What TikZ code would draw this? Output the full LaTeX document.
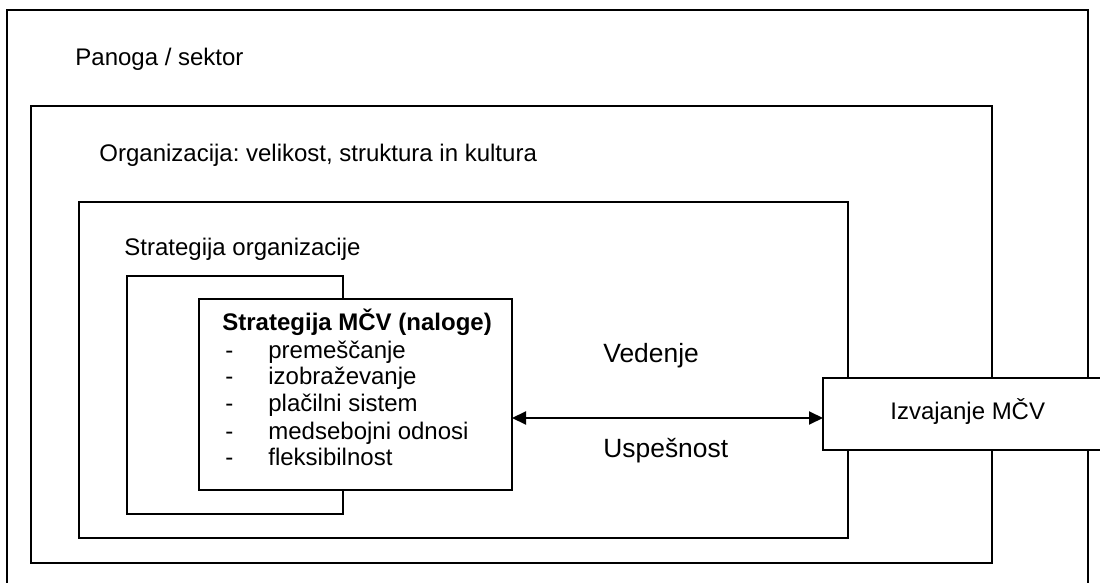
\documentclass[tikz,border=0pt]{standalone}
\usepackage{fontspec}
\setmainfont{Liberation Sans}
\usetikzlibrary{arrows.meta}
\frenchspacing
\begin{document}
\begin{tikzpicture}[x=0.5pt,y=-0.5pt,
  frame/.style={draw=black, fill=white, line width=1pt, rectangle, inner sep=0pt, outer sep=0pt},
  lbl/.style={anchor=base west, inner sep=0pt, font=\fontsize{12}{13.5}\selectfont},
  biglbl/.style={lbl, font=\fontsize{13.2}{15}\selectfont},
  boldlbl/.style={lbl, font=\fontsize{12}{13.5}\selectfont\bfseries},
  link/.style={line width=1pt, {Triangle[length=7pt,width=6.5pt]}-{Triangle[length=7pt,width=6.5pt]}}]
\clip (0,0) rectangle (1100,583);
\fill[white] (0,0) rectangle (1100,583);

% nested context frames
\node[frame, minimum width=540.5pt, minimum height=315pt] (sector) at (547.5,325) {};
\node[frame, minimum width=480.5pt, minimum height=228.5pt] (org) at (511.5,334.5) {};
\node[frame, minimum width=384.5pt, minimum height=168pt] (orgstrat) at (463.5,370) {};
\node[frame, minimum width=108pt, minimum height=119pt] (stratback) at (235,395) {};
\node[frame, minimum width=156.5pt, minimum height=95.5pt] (hrm) at (355.5,394.5) {};
\node[frame, minimum width=153.5pt, minimum height=36pt] (impl) at (976.5,414) {};

% frame titles
\node[lbl] (tsector) at (75,66) {Panoga / sektor};
\node[lbl] (torg) at (99,162) {Organizacija: velikost, struktura in kultura};
\node[lbl] (tstrat) at (124,256) {Strategija organizacije};

% HRM strategy contents
\node[boldlbl] (thrm) at (222,331) {Strategija MČV (naloge)};
\foreach \y/\t [count=\i] in {358/premeščanje, 385/izobraževanje, 412/plačilni sistem, 439/medsebojni odnosi, 466/fleksibilnost} {
  \node[lbl] (d\i) at (225,\y) {-};
  \node[lbl] (item\i) at (268,\y) {\t};
}

% link between strategy and implementation
\coordinate (arr) at (0,418);
\draw[link] (hrm.east |- arr) -- (impl.west |- arr);
\node[biglbl] (tved) at (603,363) {Vedenje};
\node[biglbl] (tusp) at (603,458) {Uspešnost};
\node[lbl] (timpl) at (890,420) {Izvajanje MČV};
\end{tikzpicture}
\end{document}
